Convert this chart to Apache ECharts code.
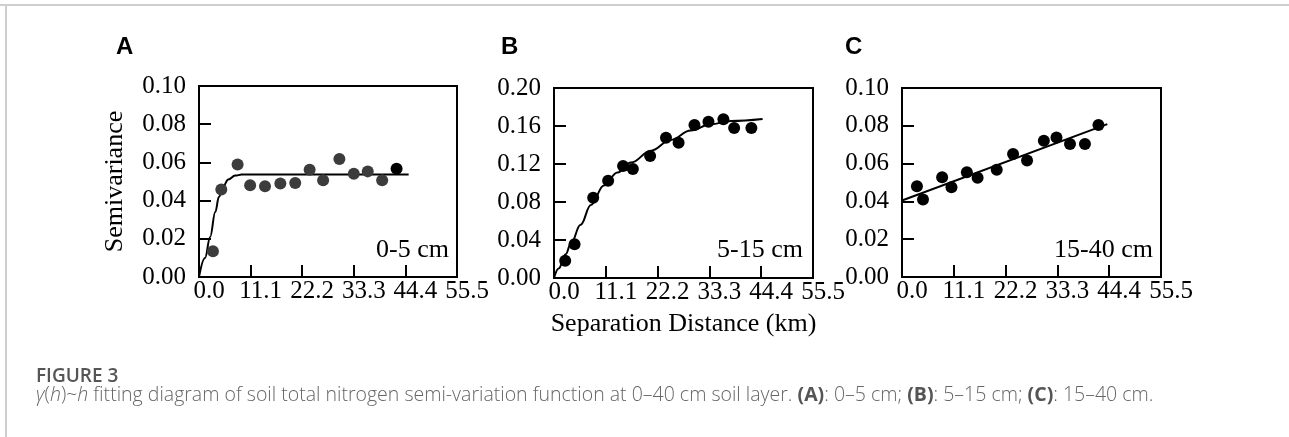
<!DOCTYPE html>
<html>
<head>
<meta charset="utf-8">
<script src="https://cdn.jsdelivr.net/npm/echarts@6.0.0/dist/echarts.min.js"></script>
<style>
  html, body { margin: 0; padding: 0; background: #fff; }
  #chart { width: 1289px; height: 437px; }
</style>
</head>
<body>
<div id="chart"></div>
<script>
// separation distance ticks (km)
const distTicks = [0, 11.1, 22.2, 33.3, 44.4, 55.5];

// A: 0-5 cm
const distA = [3.0, 4.8, 8.3, 11.0, 14.2, 17.5, 20.7, 23.8, 26.7, 30.2, 33.3, 36.3, 39.4, 42.5];
const gammaA = [0.0135, 0.0458, 0.0589, 0.048, 0.0475, 0.049, 0.0492, 0.0562, 0.0506, 0.0618, 0.0541, 0.0553, 0.0506, 0.0567];
const fitDistA = [0, 1.3, 2.4, 3.5, 4.3, 5.2, 6.3, 7.8, 9.2, 12.0, 20.0, 30.0, 45.1];
const fitGammaA = [0, 0.010, 0.021, 0.034, 0.042, 0.0475, 0.051, 0.0531, 0.0536, 0.0536, 0.0536, 0.0536, 0.0536];

// B: 5-15 cm
const distB = [2.4, 4.4, 8.4, 11.6, 14.8, 16.9, 20.6, 24.0, 26.7, 30.1, 33.1, 36.3, 38.6, 42.3];
const gammaB = [0.0182, 0.0355, 0.0845, 0.1024, 0.118, 0.1147, 0.1284, 0.1477, 0.1424, 0.161, 0.1645, 0.167, 0.158, 0.158];
const fitDistB = [0, 1.0, 2.5, 3.6, 5.7, 7.9, 10.7, 13.6, 16.5, 20.8, 25.0, 29.3, 33.6, 37.9, 44.7];
const fitGammaB = [0, 0.010, 0.025, 0.036, 0.056, 0.0768, 0.0975, 0.111, 0.1215, 0.134, 0.1453, 0.1552, 0.1618, 0.1653, 0.1674];

// C: 15-40 cm
const distC = [3.2, 4.5, 8.6, 10.6, 13.9, 16.2, 20.3, 23.8, 26.8, 30.4, 33.1, 36.0, 39.2, 42.1];
const gammaC = [0.048, 0.041, 0.0528, 0.0475, 0.0554, 0.0525, 0.0568, 0.0651, 0.0616, 0.0721, 0.0738, 0.0704, 0.0704, 0.0804];
const fitDistC = [0, 44.0];
const fitGammaC = [0.0405, 0.0809];

const panels = [
  { letter: 'A', depth: '0-5 cm', yMax: 0.1, yStep: 0.02, dist: distA, gamma: gammaA, fitDist: fitDistA, fitGamma: fitGammaA },
  { letter: 'B', depth: '5-15 cm', yMax: 0.2, yStep: 0.04, dist: distB, gamma: gammaB, fitDist: fitDistB, fitGamma: fitGammaB },
  { letter: 'C', depth: '15-40 cm', yMax: 0.1, yStep: 0.02, dist: distC, gamma: gammaC, fitDist: fitDistC, fitGamma: fitGammaC }
];

const serif = '"Liberation Serif", "Times New Roman", serif';
const sans = '"Open Sans", "Noto Sans", sans-serif';
const boxes = [
  { left: 199, top: 86, width: 258, height: 191, letterX: 116, depthRight: 840 },
  { left: 554, top: 88, width: 259, height: 190, letterX: 501, depthRight: 486 },
  { left: 902, top: 88, width: 259, height: 189, letterX: 845, depthRight: 136 }
];

const chart = echarts.init(document.getElementById('chart'));

const grid = [];
const xAxis = [];
const yAxis = [];
const series = [];
const title = [];

panels.forEach((p, i) => {
  const b = boxes[i];
  grid.push({
    left: b.left, top: b.top, width: b.width, height: b.height,
    show: true, borderColor: '#000', borderWidth: 2, backgroundColor: 'transparent'
  });
  xAxis.push({
    gridIndex: i,
    type: 'value',
    min: distTicks[0],
    max: distTicks[distTicks.length - 1],
    interval: 11.1,
    name: i === 1 ? 'Separation Distance (km)' : '',
    nameLocation: 'middle',
    nameGap: 33,
    nameTextStyle: { fontFamily: serif, fontSize: 26, color: '#000' },
    axisLine: { show: false },
    axisTick: { show: true, inside: true, length: 12, lineStyle: { color: '#000', width: 2 } },
    axisLabel: {
      fontFamily: serif, fontSize: 25, color: '#000', margin: 2,
      padding: [0, 0, 0, 20],
      formatter: v => v.toFixed(1)
    },
    splitLine: { show: false }
  });
  yAxis.push({
    gridIndex: i,
    type: 'value',
    min: 0,
    max: p.yMax,
    interval: p.yStep,
    name: i === 0 ? 'Semivariance' : '',
    nameLocation: 'middle',
    nameGap: 71,
    nameTextStyle: { fontFamily: serif, fontSize: 26, color: '#000' },
    axisLine: { show: false },
    axisTick: { show: true, inside: true, length: 12, lineStyle: { color: '#000', width: 2 } },
    axisLabel: {
      fontFamily: serif, fontSize: 25, color: '#000', margin: 13,
      formatter: v => v.toFixed(2)
    },
    splitLine: { show: false }
  });
  series.push({
    type: 'line',
    xAxisIndex: i, yAxisIndex: i,
    data: p.fitDist.map((d, k) => [d, p.fitGamma[k]]),
    showSymbol: false,
    smooth: i === 2 ? false : 0.4,
    smoothMonotone: 'x',
    lineStyle: { color: '#000', width: 2 },
    z: 2,
    silent: true
  });
  series.push({
    type: 'scatter',
    xAxisIndex: i, yAxisIndex: i,
    data: p.dist.map((d, k) => [d, p.gamma[k]]),
    symbolSize: 12,
    itemStyle: {
      opacity: 1,
      color: i === 0
        ? (params => params.dataIndex === p.dist.length - 1 ? '#000' : '#3c3c3c')
        : '#000'
    },
    z: 3
  });
  title.push({
    text: p.letter,
    left: b.letterX, top: 35,
    textStyle: { fontFamily: '"Liberation Sans", Arial, sans-serif', fontWeight: 'bold', fontSize: 24, color: '#000' },
    padding: 0
  });
  title.push({
    text: p.depth,
    right: b.depthRight, top: 237,
    textStyle: { fontFamily: serif, fontWeight: 'normal', fontSize: 26, color: '#000' },
    padding: 0
  });
});

title.push({
  text: 'FIGURE 3',
  left: 36, top: 367,
  padding: 0,
  textStyle: { fontFamily: sans, fontWeight: 600, fontSize: 19, color: '#555' }
});
title.push({
  text: '{gi|γ}{g|(}{gi|h}{g|)~}{gi|h}{g| fitting diagram of soil total nitrogen semi-variation function at 0–40 cm soil layer. }' +
        '{b|(A)}{g|: 0–5 cm; }{b|(B)}{g|: 5–15 cm; }{b|(C)}{g|: 15–40 cm.}',
  left: 36, top: 385,
  padding: 0,
  textStyle: {
    rich: {
      g: { fontFamily: sans, fontWeight: 300, fontSize: 19.5, color: '#666' },
      gi: { fontFamily: sans, fontWeight: 300, fontStyle: 'italic', fontSize: 19.5, color: '#666' },
      b: { fontFamily: sans, fontWeight: 700, fontSize: 19.5, color: '#555' }
    }
  }
});

chart.setOption({
  animation: false,
  backgroundColor: '#fff',
  title: title,
  grid: grid,
  xAxis: xAxis,
  yAxis: yAxis,
  series: series,
  graphic: [
    { type: 'line', shape: { x1: 0, y1: 5, x2: 1289, y2: 5 }, style: { stroke: '#cfcfcf', lineWidth: 2 } },
    { type: 'line', shape: { x1: 6, y1: 5, x2: 6, y2: 437 }, style: { stroke: '#cfcfcf', lineWidth: 2 } }
  ]
});
</script>
</body>
</html>
